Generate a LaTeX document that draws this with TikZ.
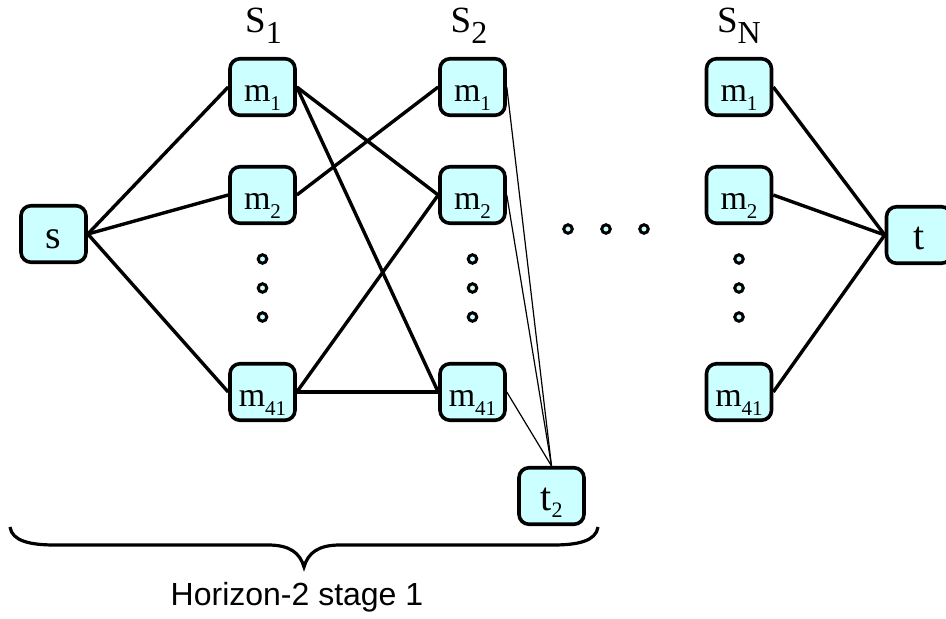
\documentclass[tikz,border=0pt]{standalone}
\usepackage{fontspec}
\setmainfont{Liberation Serif}
\newfontfamily\arialfont{Liberation Sans}
\definecolor{boxfill}{HTML}{CCFFFF}
\newcommand{\msub}[1]{\raisebox{-9pt}{\fontsize{21}{22}\selectfont #1}}
\newcommand{\tsub}[1]{\raisebox{-7pt}{\fontsize{22}{22}\selectfont #1}}
\newcommand{\lsub}[1]{\raisebox{-11pt}{\fontsize{32}{33}\selectfont #1}}
\begin{document}
\begin{tikzpicture}[x=1pt,y=-1pt,
  nbox/.style={draw=black, line width=3.6pt, fill=boxfill, rounded corners=10pt,
    minimum width=65pt, minimum height=56.5pt, inner sep=0pt,
    text height=28pt, text depth=0pt},
  mbox/.style={nbox, font=\fontsize{34}{36}\selectfont},
  stbox/.style={nbox, font=\fontsize{40}{42}\selectfont},
  lab/.style={anchor=base, inner sep=0pt, font=\fontsize{37}{40}\selectfont},
  dotnode/.style={circle, draw=black, line width=3pt, fill=boxfill, minimum size=8.5pt, inner sep=0pt},
  edge/.style={line width=3.4pt},
  thinedge/.style={line width=1.2pt}]
\useasboundingbox (0,0) rectangle (946,619);
% nodes
\node[stbox] (s) at (53.5,234) {s};
\node[mbox] (a1) at (262.5,87) {m\msub{1}};
\node[mbox] (a2) at (262.5,195) {m\msub{2}};
\node[mbox] (a41) at (262.5,392) {m\msub{41}};
\node[mbox] (b1) at (472.5,87) {m\msub{1}};
\node[mbox] (b2) at (472.5,195) {m\msub{2}};
\node[mbox] (b41) at (472.5,392) {m\msub{41}};
\node[mbox] (c1) at (739,87) {m\msub{1}};
\node[mbox] (c2) at (739,195) {m\msub{2}};
\node[mbox] (c41) at (739,392) {m\msub{41}};
\node[stbox] (t) at (919,235) {t};
\node[stbox] (t2) at (551.5,496) {t\tsub{2}};
% labels
\node[lab] (lab1) at (263.5,32) {S\lsub{1}};
\node[lab] (lab2) at (469,32) {S\lsub{2}};
\node[lab] (labN) at (739,32) {S\lsub{N}};
% dots
\foreach \x/\n in {262.5/a,472.5/b,739/c}{
  \foreach \y/\k in {259/1,288/2,317/3}{
    \node[dotnode] (dot\n\k) at (\x,\y) {};
  }
}
\node[dotnode] (h1) at (568,229) {};
\node[dotnode] (h2) at (606,229) {};
\node[dotnode] (h3) at (644,229) {};
% edges
\draw[edge] (s.east) -- (a1.west);
\draw[edge] (s.east) -- (a2.west);
\draw[edge] (s.east) -- (a41.west);
\draw[edge] (a1.east) -- (b2.west);
\draw[edge] (a1.east) -- (b41.west);
\draw[edge] (a2.east) -- (b1.west);
\draw[edge] (a41.east) -- (b2.west);
\draw[edge] (a41.east) -- (b41.west);
\draw[thinedge] (b1.east) -- (t2.north);
\draw[thinedge] (b2.east) -- (t2.north);
\draw[thinedge] (b41.east) -- (t2.north);
\draw[edge] (c1.east) -- (t.west);
\draw[edge] (c2.east) -- (t.west);
\draw[edge] (c41.east) -- (t.west);
% brace
\draw[line width=3.2pt] (10,527) .. controls (12,541) and (30,545) .. (55,545)
  -- (268,545) .. controls (290,545) and (300,553) .. (304,567)
  .. controls (308,553) and (318,545) .. (340,545)
  -- (553,545) .. controls (578,545) and (596,541) .. (598,527);
\node[anchor=base, inner sep=0pt, font=\arialfont\fontsize{32}{36}\selectfont] (hz) at (297,605) {Horizon-2 stage 1};
\end{tikzpicture}
\end{document}
